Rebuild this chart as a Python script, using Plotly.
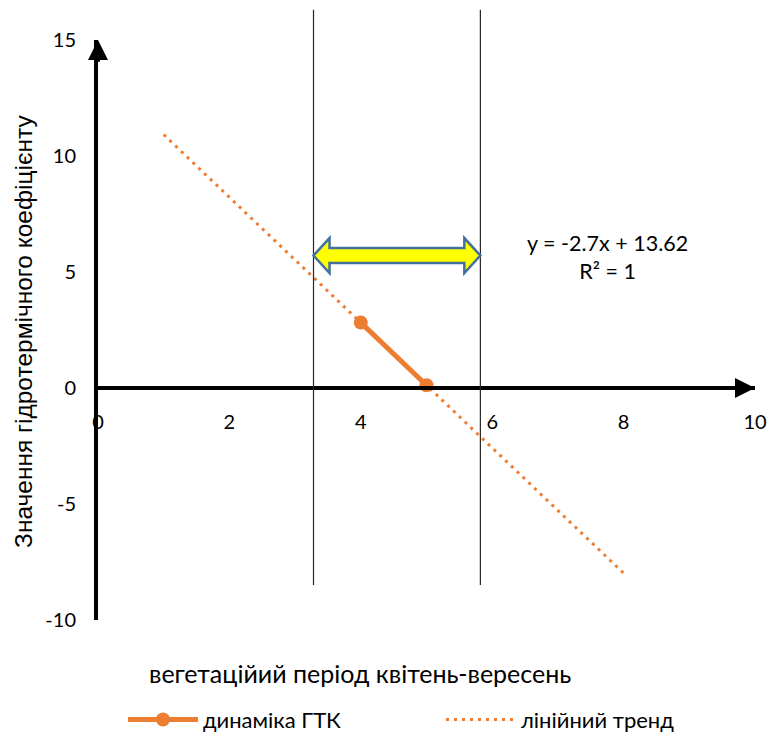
import plotly.graph_objects as go

# data
gtk_x = [4, 5]
gtk_y = [2.82, 0.12]
trend_x = [1, 8]
trend_y = [10.92, -7.98]
vline_x = [3.28, 5.82]
arrow_y = 5.71
x_ticks = [0, 2, 4, 6, 8, 10]
y_ticks = [-10, -5, 0, 5, 10, 15]
y_tick_text = ["-10", "-5", "0", "5", "10", "15"]
equation_text = "y = -2.7x + 13.62<br>R² = 1"
x_title = "вегетаційий період квітень-вересень"
y_title = "Значення гідротермічного коефіцієнту"

ORANGE = "#ED7D31"
FONT = "Lato, 'Noto Sans', sans-serif"
FONT_Y = "'Liberation Sans', Arial, sans-serif"
FS = 20

fig = go.Figure()
fig.add_trace(go.Scatter(
    x=gtk_x, y=gtk_y, mode="lines+markers", name="динаміка ГТК",
    line=dict(color=ORANGE, width=5), marker=dict(size=14, color=ORANGE),
    cliponaxis=False))
fig.add_trace(go.Scatter(
    x=trend_x, y=trend_y, mode="lines", name="лінійний тренд",
    line=dict(color=ORANGE, width=3, dash="3px,5px")))

# vertical boundary lines
for vx in vline_x:
    fig.add_shape(type="line", xref="x", yref="paper", x0=vx, x1=vx,
                  y0=0.0603, y1=1.052, line=dict(color="#262626", width=1.2))

# double arrow between the boundary lines
xl, xr = vline_x
yc = arrow_y
bh, hh, hl = 0.323, 0.754, 0.244
pts = [(xl, yc), (xl + hl, yc + hh), (xl + hl, yc + bh), (xr - hl, yc + bh),
       (xr - hl, yc + hh), (xr, yc), (xr - hl, yc - hh), (xr - hl, yc - bh),
       (xl + hl, yc - bh), (xl + hl, yc - hh)]
path = "M " + " L ".join(f"{px},{py}" for px, py in pts) + " Z"
fig.add_shape(type="path", path=path, xref="x", yref="y",
              fillcolor="#FFFF00", line=dict(color="#41719C", width=2.5))

# axis arrowheads
fig.add_annotation(x=0, y=y_ticks[-1], ax=0, ay=y_ticks[-1] - 1, xref="x", yref="y",
                   axref="x", ayref="y", text="", showarrow=True, arrowhead=2,
                   arrowwidth=4, arrowsize=1, arrowcolor="black")
fig.add_annotation(x=x_ticks[-1], y=0, ax=x_ticks[-1] - 0.5, ay=0, xref="x", yref="y",
                   axref="x", ayref="y", text="", showarrow=True, arrowhead=2,
                   arrowwidth=4, arrowsize=1, arrowcolor="black")

fig.add_annotation(x=7.76, y=5.63, xref="x", yref="y", text=equation_text,
                   showarrow=False, align="center",
                   font=dict(family=FONT, size=21.5, color="black"))
fig.add_annotation(x=0.399, y=-0.1207, xref="paper", yref="paper", text=x_title,
                   showarrow=False, font=dict(family=FONT, size=25, color="black"))
fig.add_annotation(x=-0.136, y=0.497, xref="paper", yref="paper", text=y_title,
                   textangle=-90, showarrow=False,
                   font=dict(family=FONT_Y, size=24.5, color="black"))

fig.update_layout(
    width=773, height=734,
    margin=dict(l=98, r=18, t=40, b=114, autoexpand=False),
    plot_bgcolor="white", paper_bgcolor="white",
    font=dict(family=FONT, size=FS, color="black"),
    showlegend=True,
    legend=dict(orientation="h", x=0.038, y=-0.172, xanchor="left", yanchor="middle",
                itemwidth=70, entrywidth=233, entrywidthmode="pixels",
                font=dict(family=FONT, size=22)),
    xaxis=dict(range=[0, 10], tickvals=x_ticks, showgrid=False, zeroline=False,
               showline=True, linecolor="black", linewidth=4, anchor="free",
               position=0.4, ticks="", ticklabelstandoff=15),
    yaxis=dict(range=[-10, 15], tickvals=y_ticks, ticktext=y_tick_text,
               showgrid=False, zeroline=False,
               showline=True, linecolor="black", linewidth=4, ticks="",
               ticklabelstandoff=14),
)

fig.write_html("out.html")
